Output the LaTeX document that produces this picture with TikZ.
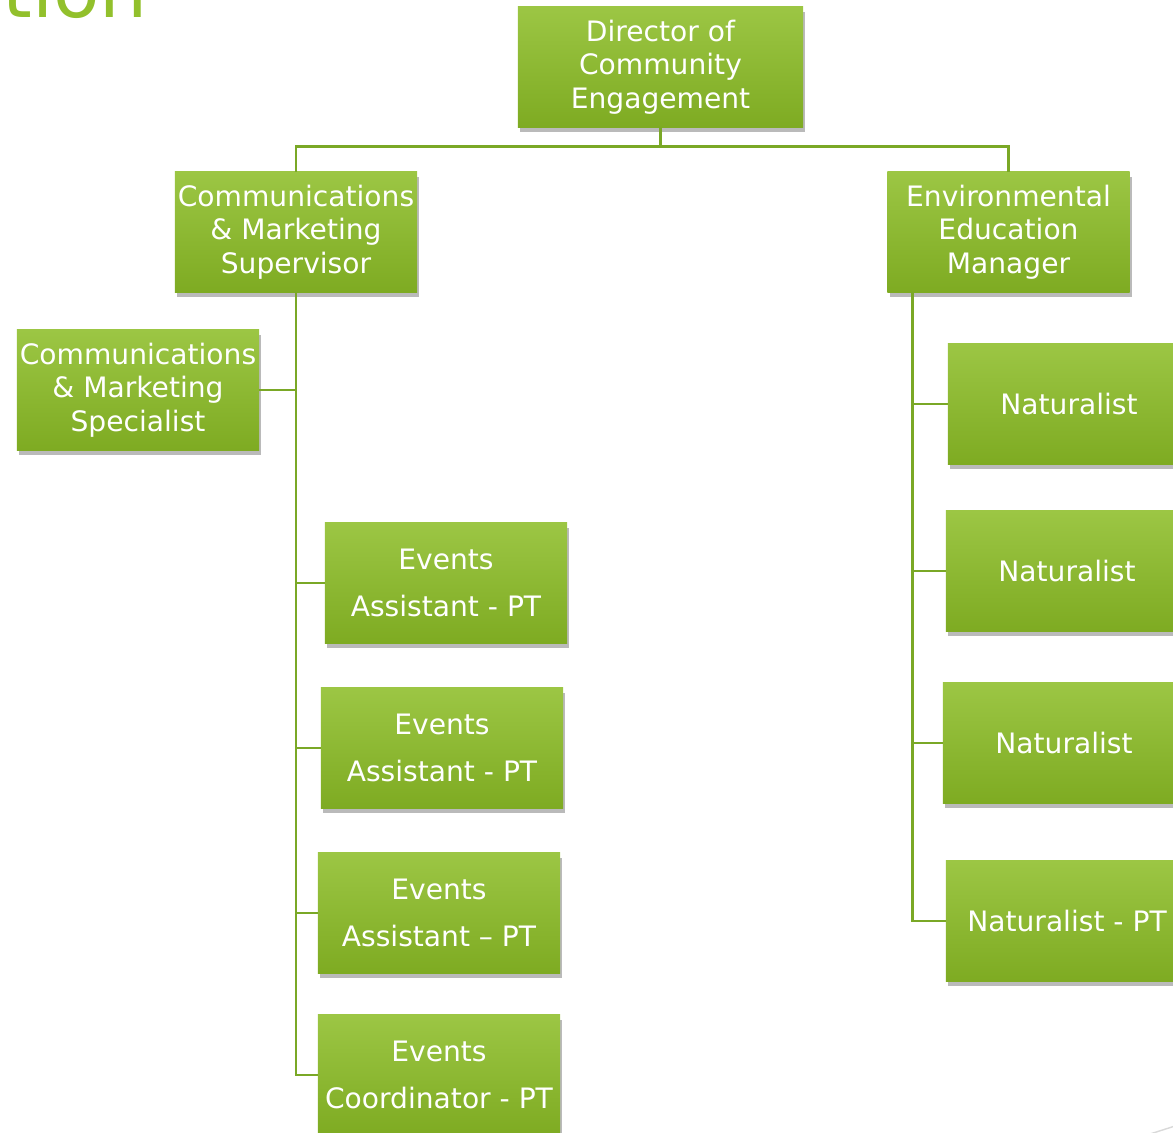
\documentclass[tikz,border=0pt]{standalone}
\usepackage{fontspec}
\setmainfont{DejaVu Sans}
\usepackage{tikz}
\usetikzlibrary{shadows,positioning}
\definecolor{gtop}{RGB}{156,198,68}
\definecolor{gbot}{RGB}{126,171,34}
\definecolor{gline}{RGB}{122,168,38}
\definecolor{gtitle}{RGB}{146,192,44}
\tikzset{box/.style={rectangle,top color=gtop,bottom color=gbot,text=white,align=center,minimum width=6.05cm,minimum height=3cm,inner sep=0pt,font=\fontsize{20}{24}\selectfont,drop shadow={shadow xshift=0.6mm,shadow yshift=-1.2mm,opacity=0.45,fill=black!60}}}
\tikzset{lnk/.style={draw=gline,line width=2pt}}

\begin{document}
\begin{tikzpicture}[x=0.025cm,y=-0.025cm]
    \useasboundingbox (0,0) rectangle (1173,1133);
    \clip (0,0) rectangle (1173,1133);
    \node[text=gtitle,anchor=base west,inner sep=0pt,font=\fontsize{54}{62}\selectfont] (ttl) at (2,17) {tion};

    \node[box,minimum width=7.125cm] (dir) at (660.5,67) {Director of\\Community\\Engagement};
    \node[box] (cms) at (296,232) {Communications\\\& Marketing\\Supervisor};
    \node[box] (eem) at (1008.5,232) {Environmental\\Education\\Manager};
    \node[box] (spec) at (138,390) {Communications\\\& Marketing\\Specialist};

    \node[box] (ev1) at (446,583) {Events\\[10pt]Assistant - PT};
    \node[box] (ev2) at (442,748) {Events\\[10pt]Assistant - PT};
    \node[box] (ev3) at (439,913) {Events\\[10pt]Assistant -- PT};
    \node[box] (ev4) at (439,1075) {Events\\[10pt]Coordinator - PT};

    \node[box] (n1) at (1069,404) {Naturalist};
    \node[box] (n2) at (1067,571) {Naturalist};
    \node[box] (n3) at (1064,743) {Naturalist};
    \node[box] (n4) at (1067,921) {Naturalist - PT};

    \coordinate (tj) at ([yshift=-0.475cm]dir.south);
    \coordinate (ej) at ([xshift=0.625cm]eem.south west);

    \draw[lnk] (dir.south) -- (tj) -| (cms.north);
    \draw[lnk] (tj) -| (eem.north);
    \draw[lnk] (cms.south) |- (spec.east);
    \draw[lnk] (cms.south) |- (ev1.west);
    \draw[lnk] (cms.south) |- (ev2.west);
    \draw[lnk] (cms.south) |- (ev3.west);
    \draw[lnk] (cms.south) |- (ev4.west);
    \draw[lnk] (ej) |- (n1.west);
    \draw[lnk] (ej) |- (n2.west);
    \draw[lnk] (ej) |- (n3.west);
    \draw[lnk] (ej) |- (n4.west);

    \draw[black!15,line width=1pt] (1150,1134) -- (1175,1126);
\end{tikzpicture}
\end{document}
